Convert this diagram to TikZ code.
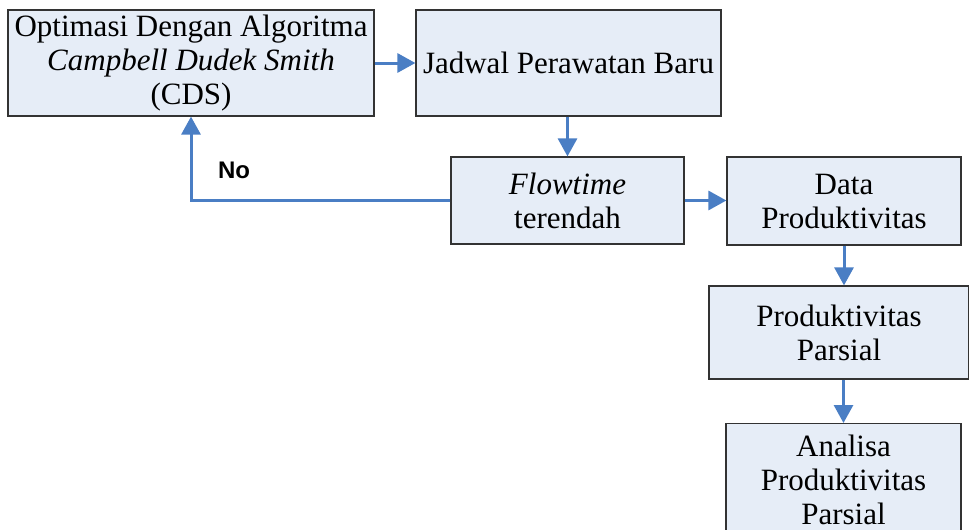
\documentclass[tikz,border=0pt]{standalone}
\usepackage{fontspec}
\setmainfont{Liberation Serif}[ItalicFont={Liberation Serif Italic}]
\newfontfamily\labelfont{Liberation Sans}
\usetikzlibrary{arrows.meta}
\definecolor{boxfill}{RGB}{230,237,247}
\definecolor{flowblue}{RGB}{74,126,196}
\begin{document}
\begin{tikzpicture}[x=1pt,y=1pt,
		box/.style={draw=black!80,line width=1.2pt,fill=boxfill,inner sep=0pt,align=center,
			font=\fontsize{31}{34}\selectfont},
		flow/.style={draw=flowblue,line width=3pt,-{Triangle[length=18pt,width=19pt]}}]
		\useasboundingbox (0,0) rectangle (969,-530);
		\node[box,minimum width=366pt,minimum height=106pt](opt) at (191,-63)
			{Optimasi Dengan Algoritma\\\textit{Campbell Dudek Smith}\\(CDS)};
		\node[box,minimum width=305pt,minimum height=106pt](jadwal) at (568.5,-63)
			{Jadwal Perawatan Baru};
		\node[box,minimum width=233pt,minimum height=87pt](flowtime) at (567.5,-200.5)
			{\textit{Flowtime}\\terendah};
		\node[box,minimum width=234pt,minimum height=88pt](data) at (844,-201)
			{Data\\Produktivitas};
		\node[box,minimum width=260pt,minimum height=93pt](parsial) at (839,-332.5)
			{Produktivitas\\Parsial};
		\node[box,minimum width=235pt,minimum height=112pt,anchor=north](analisa) at (843.5,-423)
			{Analisa\\Produktivitas\\Parsial};
		% arrows
		\draw[flow] (opt.east) -- (jadwal.west);
		\draw[flow] (jadwal.south -| flowtime.north) -- (flowtime.north);
		\draw[flow] (flowtime.east) -- (flowtime.east -| data.west);
		\draw[flow] (data.south) -- (data.south |- parsial.north);
		\draw[flow] (analisa.north |- parsial.south) -- (analisa.north);
		\draw[flow] (flowtime.west) -| (opt.south);
		\node[font=\labelfont\bfseries\fontsize{24}{28}\selectfont](no) at (234,-170){No};
	\end{tikzpicture}
\end{document}
